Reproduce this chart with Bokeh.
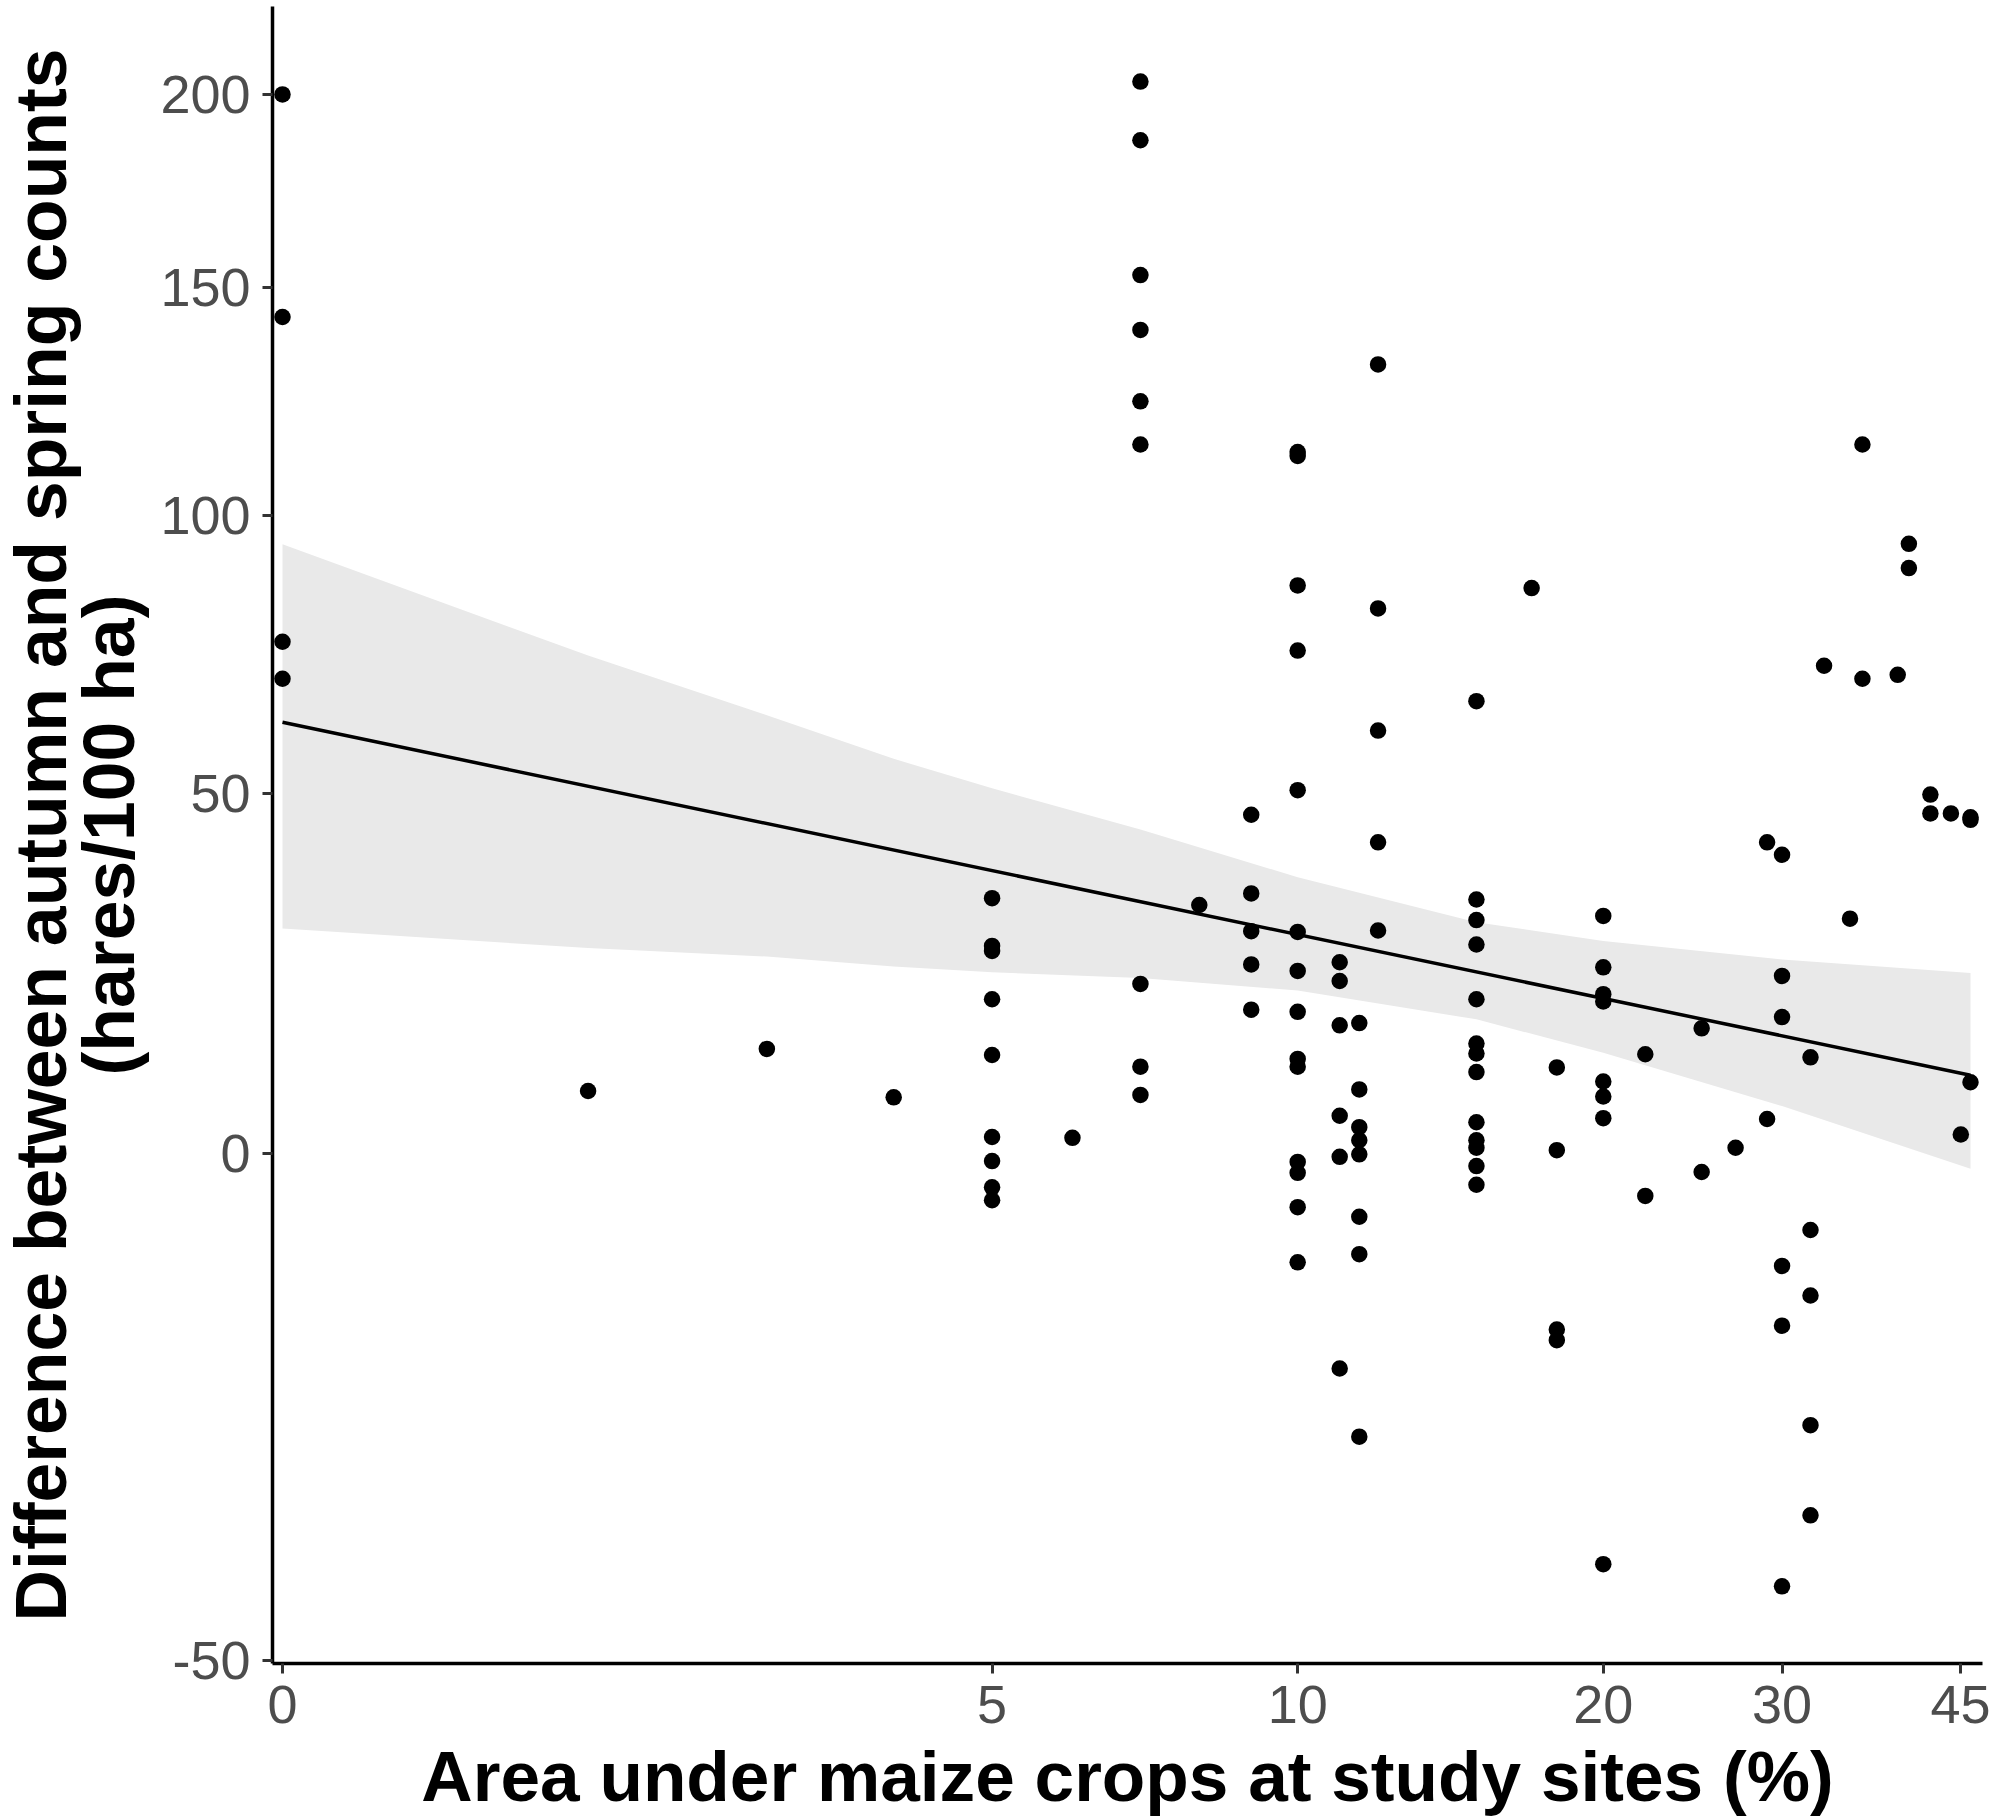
import numpy as np

from bokeh.embed import file_html
from bokeh.models import FixedTicker, Range1d, Title
from bokeh.plotting import figure
from bokeh.resources import INLINE

# one row per group of sites with the same maize share
maize_pct = [0, 0, 0, 0,
             2, 3, 4,
             5, 5, 5, 5, 5, 5, 5, 5, 5,
             6,
             7, 7, 7, 7, 7, 7, 7, 7, 7,
             8,
             9, 9, 9, 9, 9,
             10, 10, 10, 10, 10, 10, 10, 10, 10, 10, 10, 10, 10, 10,
             11, 11, 11, 11, 11, 11,
             11.5, 11.5, 11.5, 11.5, 11.5, 11.5, 11.5, 11.5,
             12, 12, 12, 12, 12,
             15, 15, 15, 15, 15, 15, 15, 15, 15, 15, 15, 15, 15,
             17,
             18, 18, 18, 18,
             20, 20, 20, 20, 20, 20, 20, 20,
             22, 22,
             25, 25,
             27,
             29, 29,
             30, 30, 30, 30, 30, 30,
             32, 32, 32, 32, 32,
             33,
             35,
             36, 36,
             39,
             40, 40,
             42, 42,
             44,
             45,
             46, 46, 46]
hare_diff = [200, 142.9, 75.9, 69.3,
             7.7, 13.1, 6.9,
             34, 27.1, 26.4, 19.7, 12.3, 2, -0.9, -4, -5.5,
             1.9,
             203.6, 187.4, 152.9, 139.9, 123.8, 114.5, 21.8, 10.8, 7.2,
             33,
             46.7, 34.7, 29.2, 24.5, 18.3,
             112.9, 112.1, 86.3, 74.3, 50.6, 29.1, 23.6, 18, 11.8, 10.8, -1, -2.3, -6.3, -12.5,
             24.8, 22.2, 16.2, 4.6, -0.4, -23.7,
             16.5, 7.9, 3.2, 1.6, -0.1, -7.4, -11.6, -30.4,
             132, 82, 60.4, 42.4, 29.3,
             65.4, 33.8, 30.8, 27.3, 19.7, 13.8, 12.5, 10.1, 3.8, 1.6, 0.7, -1.5, -3.7,
             85.8,
             10.7, 0.4, -19.7, -20.8,
             31.4, 24.1, 20.4, 19.4, 8.9, 7, 4.3, -42,
             12.4, -5,
             15.8, -2.2,
             0.7,
             42.4, 4.2,
             40.5, 22.9, 17.3, -12.9, -19.3, -43.9,
             12, -8.9, -16.1, -29.3, -37.7,
             71.6,
             31,
             114.5, 69.3,
             70,
             94.3, 89.6,
             49.9, 46.9,
             46.9,
             2.3,
             46.3, 45.9, 8.8]

fit_x = [1, 46]
fit_y = [61.8, 9.7]

band_x = [1, 2, 3, 4, 5, 7, 10, 15, 20, 30, 46]
band_upper = [94.2, 73.4, 63, 55.7, 50.9, 44.4, 37.1, 30.5, 27.8, 25.2, 23.3]
band_lower = [29.6, 26.8, 25.6, 24.2, 23.4, 22.6, 20.9, 17, 12.6, 5.8, -1.8]

x_ticks = [0, 5, 10, 20, 30, 45]
y_ticks = [-50, 0, 50, 100, 150, 200]

y_title_lines = ["(hares/100 ha)", "Difference between autumn and spring counts"]

# both axes are log: zero maize sits at 1, counts are shifted by 150
Y_SHIFT = 150


def shift(values):
    return np.array(values, dtype=float) + Y_SHIFT


def x_pos(values):
    return np.where(np.array(values, dtype=float) == 0, 1, values)


p = figure(width=1990, height=1819, output_backend="svg", toolbar_location=None,
           x_axis_type="log", y_axis_type="log",
           x_range=Range1d(0.9776, 47.27), y_range=Range1d(99.75, 375.5),
           x_axis_label="Area under maize crops at study sites (%)",
           min_border_left=272, min_border_right=8, min_border_top=6, min_border_bottom=156)

p.varea(band_x, shift(band_upper), shift(band_lower), fill_color="#E9E9E9")
p.scatter(x_pos(maize_pct), shift(hare_diff), size=16.5, color="black", line_color=None)
p.line(fit_x, shift(fit_y), line_width=3.5, color="black")

p.xaxis.ticker = FixedTicker(ticks=[float(t) for t in x_pos(x_ticks)])
p.xaxis.major_label_overrides = {float(pos): str(t) for pos, t in zip(x_pos(x_ticks), x_ticks)}
p.yaxis.ticker = FixedTicker(ticks=[float(t) for t in shift(y_ticks)])
p.yaxis.major_label_overrides = {float(pos): str(t) for pos, t in zip(shift(y_ticks), y_ticks)}

p.grid.visible = False
p.outline_line_color = None
p.background_fill_color = "white"

for axis in (p.xaxis, p.yaxis):
    axis.axis_line_color = "black"
    axis.axis_line_width = 3.5
    axis.major_tick_line_color = "#333333"
    axis.major_tick_line_width = 3
    axis.major_tick_out = 10
    axis.major_tick_in = 0
    axis.minor_tick_line_color = None
    axis.major_label_text_color = "#4D4D4D"
    axis.major_label_text_font = "Liberation Sans"
    axis.major_label_text_font_size = "54px"
    axis.axis_label_text_color = "black"
    axis.axis_label_text_font = "Liberation Sans"
    axis.axis_label_text_font_style = "bold"
    axis.axis_label_text_font_size = "71.2px"

p.xaxis.major_label_standoff = 12
p.yaxis.major_label_standoff = 12
p.xaxis.axis_label_standoff = 11

# y title is two stacked side titles, inner line first
for text, standoff in zip(y_title_lines, [18, -46]):
    p.add_layout(Title(text=text, align="center", standoff=standoff, text_font="Liberation Sans",
                       text_font_style="bold", text_font_size="71.5px", text_color="black"), "left")

open("out.html", "w").write(file_html(p, INLINE))
